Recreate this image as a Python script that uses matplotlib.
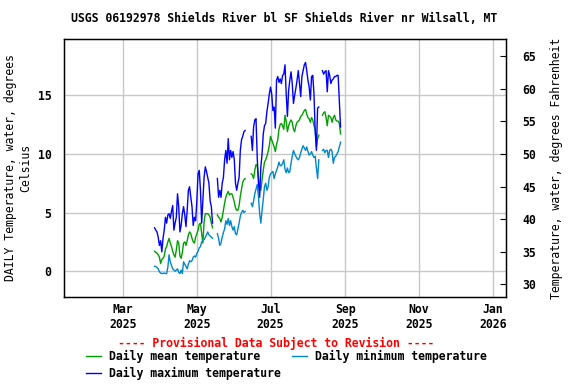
import numpy as np
import pandas as pd
import matplotlib
matplotlib.use("Agg")
import matplotlib.pyplot as plt

nan = np.nan

# daily values, 2025-03-27 .. 2025-08-28 (deg C)
dates = pd.date_range("2025-03-27", periods=155, freq="D")

daily_max = [
    3.7, 3.5, 3.35, 2.9, 2.2, 2.6, 1.65, 2.8, 3.5, 4.6,
    4.1, 4.8, 4.9, 4.5, 5.1, 5.6, 3.5, 4.1, 4.6, 6.6,
    5.5, 3.35, 3.9, 4.9, 5.5, 4.8, 3.8, 5.2, 6.9, 7.2,
    6.3, 5.5, 3.9, 4.6, 4.3, 6.0, 8.3, 8.6, 6.9, 4.1,
    6.0, 8.0, 8.9, 8.5, 8.0, 7.5, 6.0, 5.5, 4.1, nan,
    nan, nan, 7.9, 6.3, 6.9, 6.3, 7.5, 8.0, 9.5, 10.3,
    9.2, 11.3, 9.5, 10.3, 9.7, 10.2, 9.5, 7.5, 6.9, 7.5,
    8.0, 10.3, 11.2, 11.5, 11.9, 12.0, nan, nan, nan, nan,
    11.5, 10.3, 12.3, 12.9, 13.0, 9.7, 7.5, 6.3, 8.9, 10.0,
    11.7, 12.4, 12.6, 13.6, 14.3, 15.1, 15.7, 15.1, 13.7, 14.0,
    12.2, 16.3, 16.6, 16.1, 16.4, 16.0, 16.7, 16.8, 17.6, 15.1,
    13.2, 15.4, 16.3, 17.0, 16.0, 14.3, 15.0, 15.6, 16.3, 17.1,
    16.0, 14.9, 16.6, 17.1, 17.6, 17.8, 17.1, 16.3, 15.7, 14.6,
    16.6, 16.7, 15.1, 12.0, 10.3, 13.9, 14.0, nan, nan, 17.1,
    16.8, 17.0, 17.1, 15.3, 17.1, 16.7, 16.0, 16.3, 16.4, 16.6,
    16.6, 16.7, 16.7, 14.5, 12.3,
]

daily_mean = [
    1.7, 1.6, 1.55, 1.4, 1.2, 0.65, 1.0, 1.1, 1.3, 1.9,
    2.1, 2.5, 2.8, 2.4, 2.1, 1.7, 1.4, 1.2, 1.8, 2.6,
    2.4, 1.3, 1.1, 1.6, 2.4, 2.5, 2.2, 2.6, 3.1, 3.35,
    3.2, 2.8, 2.5, 2.4, 2.9, 3.2, 3.5, 4.0, 4.1, 3.2,
    2.4, 4.2, 4.9, 4.9, 4.9, 4.8, 4.6, 4.1, 3.7, nan,
    nan, nan, 4.8, 4.6, 4.5, 4.2, 4.6, 5.2, 5.8, 6.3,
    6.6, 6.8, 6.5, 6.6, 6.6, 6.3, 5.9, 5.4, 5.2, 5.2,
    5.6, 6.4, 7.0, 7.6, 7.8, 7.9, nan, nan, nan, nan,
    8.3, 8.2, 7.9, 8.6, 9.1, 9.0, 8.0, 7.2, 6.9, 7.8,
    8.6, 9.3, 9.5, 9.8, 10.2, 10.7, 11.5, 11.2, 10.9, 10.6,
    10.2, 10.8, 11.2, 12.1, 12.5, 12.6, 12.4, 12.1, 13.3, 12.8,
    11.9, 12.4, 12.7, 12.9, 12.7, 12.1, 11.9, 12.4, 12.7, 12.8,
    12.9, 13.2, 13.3, 13.5, 13.7, 13.8, 13.4, 13.1, 13.0, 12.7,
    13.1, 12.9, 12.4, 12.1, 10.6, 11.3, 11.6, nan, nan, 13.3,
    13.5, 13.6, 13.1, 12.4, 13.3, 13.2, 13.1, 12.7, 13.1, 13.3,
    12.9, 12.8, 12.8, 12.6, 11.7,
]

daily_min = [
    0.42, 0.4, 0.3, 0.2, -0.05, -0.15, -0.2, -0.2, -0.15, -0.2,
    -0.2, 0.35, 1.4, 0.8, 0.5, 0.2, 0.1, 0.0, 0.1, 0.2,
    -0.1, -0.2, 0.1, -0.2, 0.8, 0.6, 0.4, 0.2, 0.6, 0.9,
    0.8, 0.9, 1.2, 1.3, 1.2, 1.5, 1.7, 2.0, 2.1, 2.5,
    2.6, 2.7, 2.9, 3.1, 3.35, 3.1, 3.0, 2.9, 2.8, nan,
    nan, nan, 3.2, 2.8, 2.2, 2.4, 2.9, 3.3, 3.6, 4.3,
    4.0, 4.5, 3.9, 4.3, 3.8, 3.5, 3.8, 3.2, 3.1, 3.6,
    4.1, 4.7, 5.0, 5.2, 5.0, 5.1, nan, nan, nan, nan,
    5.8, 5.5, 6.0, 6.6, 7.0, 7.4, 6.4, 4.9, 4.1, 5.2,
    6.1, 7.2, 7.5, 6.9, 7.2, 8.0, 8.3, 8.4, 8.5, 7.9,
    8.3, 8.6, 8.9, 9.3, 9.0, 9.0, 9.2, 9.5, 8.7, 8.4,
    8.8, 8.4, 8.5, 9.2, 9.8, 10.3, 10.0, 9.8, 9.6, 9.5,
    9.7, 10.1, 10.4, 10.7, 10.5, 10.3, 10.6, 10.2, 9.9, 10.0,
    10.2, 9.9, 9.7, 9.8, 8.8, 7.9, 9.5, nan, nan, 10.3,
    10.4, 10.1, 10.3, 10.3, 9.7, 10.3, 10.4, 10.2, 9.2, 9.7,
    9.8, 10.0, 10.2, 10.6, 11.0,
]

tick_dates = pd.to_datetime(["2025-03-01", "2025-05-01", "2025-07-01",
                             "2025-09-01", "2025-11-01", "2026-01-01"])
tick_labels = ["Mar\n2025", "May\n2025", "Jul\n2025",
               "Sep\n2025", "Nov\n2025", "Jan\n2026"]

plt.rcParams["font.family"] = "DejaVu Sans Mono"
plt.rcParams["font.weight"] = "bold"
plt.rcParams["font.size"] = 8.3

fig = plt.figure(figsize=(5.76, 3.84), dpi=100)
ax = fig.add_axes([64 / 576, 1 - 297 / 384, 442 / 576, 258 / 384])

ax.plot(dates, daily_mean, color="#00a000", lw=1, label="Daily mean temperature")
ax.plot(dates, daily_max, color="#0000ff", lw=1, label="Daily maximum temperature")
ax.plot(dates, daily_min, color="#0088cc", lw=1, label="Daily minimum temperature")

ax.set_xlim(pd.Timestamp("2025-01-11"), pd.Timestamp("2026-01-12"))
ax.set_ylim(-2.2, 19.8)
ax.set_yticks([0, 5, 10, 15])
ax.set_xticks(tick_dates)
ax.set_xticklabels(tick_labels)
ax.grid(True, color="#c8c8c8", lw=1)
ax.set_axisbelow(True)
ax.tick_params(axis="y", length=0, pad=9)
ax.tick_params(axis="x", length=0, pad=4)
for s in ax.spines.values():
    s.set_linewidth(1)
ax.set_ylabel("DAILY Temperature, water, degrees\nCelsius", labelpad=4)

axr = ax.twinx()
axr.set_ylim(-2.2 * 9 / 5 + 32, 19.8 * 9 / 5 + 32)
axr.set_yticks([30, 35, 40, 45, 50, 55, 60, 65])
axr.tick_params(axis="y", direction="in", length=4, pad=12)
axr.set_ylabel("Temperature, water, degrees Fahrenheit", labelpad=10)

fig.text(284 / 576, 1 - 19 / 384, "USGS 06192978 Shields River bl SF Shields River nr Wilsall, MT",
         ha="center", va="center")
fig.text(276 / 576, 1 - 343 / 384, "---- Provisional Data Subject to Revision ----",
         ha="center", va="center", color="red")

h, l = ax.get_legend_handles_labels()
fig.legend(h, l, ncol=2, loc="upper left", bbox_to_anchor=(80 / 576, 1 - 344 / 384),
           frameon=False, handlelength=1.3, handletextpad=0.7, columnspacing=1.0,
           labelspacing=0.35, borderpad=0)

fig.savefig("out.png", dpi=100)
